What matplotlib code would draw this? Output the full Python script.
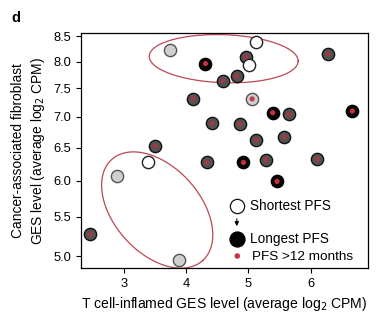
import numpy as np
import matplotlib
matplotlib.use("Agg")
import matplotlib.pyplot as plt
from matplotlib.ticker import FixedLocator, FixedFormatter, NullLocator

plt.rcParams['font.family'] = ['Liberation Sans', 'DejaVu Sans']

# Patient samples: T cell-inflamed GES (x) vs CAF GES (y)
tcell = [3.74, 5.13, 4.31, 4.96, 5.01, 4.59, 4.81, 4.11, 5.06, 5.39, 4.42, 5.65,
         6.67, 6.28, 4.86, 5.13, 5.58, 3.50, 3.39, 2.89, 4.33, 4.92, 5.28, 6.11,
         5.46, 2.46, 3.89]
caf = [8.22, 8.38, 7.96, 8.09, 7.93, 7.64, 7.72, 7.31, 7.31, 7.07, 6.89, 7.04,
       7.10, 8.15, 6.88, 6.62, 6.67, 6.52, 6.27, 6.07, 6.27, 6.27, 6.31, 6.32,
       5.99, 5.27, 4.96]
# PFS shade: 0 = shortest (white) ... 3 = longest (black)
pfs_shade = [1, 0, 3, 2, 0, 2, 2, 2, 1, 3, 2, 2,
             3, 2, 2, 2, 2, 2, 0, 1, 2, 3, 2, 2,
             3, 2, 1]
# PFS > 12 months flag
pfs_12 = [0, 0, 1, 1, 0, 1, 1, 1, 1, 1, 1, 1,
          1, 1, 1, 1, 1, 1, 0, 0, 1, 1, 1, 1,
          1, 1, 0]

xticks = [3, 4, 5, 6]
yticks = [5.0, 5.5, 6.0, 6.5, 7.0, 7.5, 8.0, 8.5]

shade_colors = {0: '#ffffff', 1: '#cfcfcf', 2: '#525252', 3: '#050505'}
edge_colors = {0: '#222222', 1: '#555555', 2: '#111111', 3: '#000000'}
dot_colors = {1: '#c0404a', 2: '#9e3a42', 3: '#c8303e'}
red = '#c8323e'

fig = plt.figure(figsize=(3.76, 3.24), dpi=100)
ax = fig.add_axes([0.2154, 0.1728, 0.763, 0.7253])
ax.set_yscale('log')
ax.set_xlim(2.31, 6.92)
ax.set_ylim(4.86, 8.57)

for xv, yv, s, r in zip(tcell, caf, pfs_shade, pfs_12):
    ax.scatter([xv], [yv], s=78, c=shade_colors[s], edgecolors=edge_colors[s],
               linewidths=1.0, zorder=3)
    if r:
        ax.scatter([xv], [yv], s=14, c=dot_colors[s], edgecolors='none', zorder=4)

# Group outlines, drawn in axes-pixel space
fig.canvas.draw()
bb = ax.get_window_extent()
W, H = bb.width, bb.height


def outline(cx, cy, a, b, ang):
    t = np.linspace(0, 2 * np.pi, 200)
    th = np.deg2rad(ang)
    px = cx + a * np.cos(t) * np.cos(th) - b * np.sin(t) * np.sin(th)
    py = cy + a * np.cos(t) * np.sin(th) + b * np.sin(t) * np.cos(th)
    ax.plot(px / W, py / H, color='#bc4855', lw=0.9, transform=ax.transAxes,
            zorder=2, clip_on=False)


outline(142.7, 209.3, 74.5, 24.0, -2)
outline(76.2, 58.0, 68.0, 43.0, -48)

ax.xaxis.set_major_locator(FixedLocator(xticks))
ax.set_xticklabels([str(v) for v in xticks])
ax.yaxis.set_major_locator(FixedLocator(yticks))
ax.yaxis.set_major_formatter(FixedFormatter([f'{v:.1f}' for v in yticks]))
ax.yaxis.set_minor_locator(NullLocator())
ax.tick_params(direction='out', length=3.6, width=0.8, labelsize=9.3, pad=3.6)
for sp in ax.spines.values():
    sp.set_linewidth(0.9)

ax.set_xlabel('T cell-inflamed GES level (average log$_2$ CPM)', fontsize=10.1,
              labelpad=3.5)
ax.set_ylabel('Cancer-associated fibroblast\nGES level (average log$_2$ CPM)',
              fontsize=9.9, labelpad=4.5, linespacing=1.3)

# Legend, placed in figure-pixel coordinates
lax = fig.add_axes([0, 0, 1, 1], facecolor='none')
lax.set_xlim(0, 376)
lax.set_ylim(324, 0)
lax.axis('off')
lax.scatter([237.3], [206], s=105, c='white', edgecolors='#111111', linewidths=0.9,
            zorder=5)
lax.annotate('', xy=(236.8, 229), xytext=(236.8, 216),
             arrowprops=dict(arrowstyle='-|>', color='black', lw=0.8,
                             mutation_scale=6))
lax.scatter([237.3], [238.5], s=115, c='black', edgecolors='black', zorder=5)
lax.scatter([237.3], [256], s=16, c=red, edgecolors='none', zorder=5)
lax.text(250, 206.5, 'Shortest PFS', fontsize=9.8, va='center', ha='left')
lax.text(250, 239, 'Longest PFS', fontsize=9.8, va='center', ha='left')
lax.text(252.5, 256.5, 'PFS >12 months', fontsize=9.7, va='center', ha='left')
lax.text(11.5, 17.5, 'd', fontsize=10.5, fontweight='bold', va='center', ha='left')

fig.savefig('out.png', dpi=100)
